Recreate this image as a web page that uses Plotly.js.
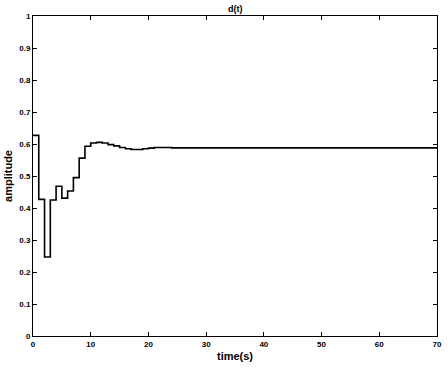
<!DOCTYPE html>
<html><head><meta charset="utf-8">
<script src="https://cdn.plot.ly/plotly-3.0.1.min.js"></script>
<style>html,body{margin:0;padding:0;background:#fff}#c{width:448px;height:371px}</style>
</head><body><div id="c"></div>
<script>
var time = [0,1,2,3,4,5,6,7,8,9,10,11,12,13,14,15,16,17,18,19,20,21,22,23,24,70];
var amplitude = [0.627,0.427,0.247,0.425,0.468,0.431,0.453,0.495,0.556,0.593,0.603,0.605,0.603,0.598,0.594,0.589,0.585,0.583,0.583,0.585,0.587,0.589,0.589,0.589,0.588,0.588];
var xTicks = [0,10,20,30,40,50,60,70];
var yTicks = [0,0.1,0.2,0.3,0.4,0.5,0.6,0.7,0.8,0.9,1];
var yTickText = ['0','0.1','0.2','0.3','0.4','0.5','0.6','0.7','0.8','0.9','1'];

var font = {family:'Liberation Sans, Arial, sans-serif', color:'#000'};
var trace = {x:time, y:amplitude, type:'scatter', mode:'lines',
  line:{shape:'hv', color:'#000', width:1.6}, hoverinfo:'skip'};
var axisCommon = {showline:true, linecolor:'#000', linewidth:1, mirror:'allticks',
  ticks:'inside', ticklen:4, tickcolor:'#000', tickwidth:1, showgrid:false, zeroline:false,
  tickfont:{family:font.family, size:8, color:'#000', weight:'bold'}};
var layout = {
  width:448, height:371, margin:{l:33, r:11, t:16, b:35},
  paper_bgcolor:'#fff', plot_bgcolor:'#fff', showlegend:false,
  title:{text:'<b>d(t)</b>', font:{family:font.family, size:9, color:'#000'}, x:0.525, xanchor:'center', y:0.985, yanchor:'top'},
  xaxis:Object.assign({}, axisCommon, {range:[0,70], tickvals:xTicks, ticktext:xTicks.map(String),
    title:{text:'<b>time(s)</b>', font:{family:font.family, size:11, color:'#000'}, standoff:4}}),
  yaxis:Object.assign({}, axisCommon, {range:[0,1], tickvals:yTicks, ticktext:yTickText,
    title:{text:'<b>amplitude</b>', font:{family:font.family, size:11, color:'#000'}, standoff:4}})
};
Plotly.newPlot('c', [trace], layout, {staticPlot:true, displayModeBar:false});
</script></body></html>
